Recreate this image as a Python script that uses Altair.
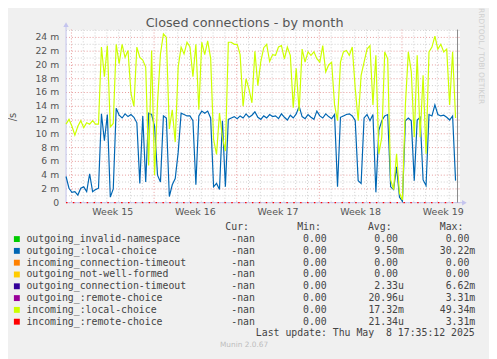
import altair as alt
import pandas as pd

# ---------------- data ----------------
series_names = [
    "outgoing_invalid-namespace",
    "outgoing_:local-choice",
    "incoming_connection-timeout",
    "outgoing_not-well-formed",
    "outgoing_connection-timeout",
    "outgoing_:remote-choice",
    "incoming_:local-choice",
    "incoming_:remote-choice",
]
series_colors = ["#00CC00", "#0066B3", "#FF8000", "#FFCC00",
                 "#330099", "#990099", "#CCFF00", "#FF0000"]
cur_vals = ["-nan"] * 8
min_vals = ["0.00"] * 8
avg_vals = ["0.00", "9.50m", "0.00", "0.00", "2.33u", "20.96u", "17.32m", "21.34u"]
max_vals = ["0.00", "30.22m", "0.00", "0.00", "6.62m", "3.31m", "49.34m", "3.31m"]

# 6-hour samples (in milli-connections per second), first sample Apr 6 13:00
start_day = -0.4583   # days relative to Monday of week 15
step_day = 0.25

outgoing_local = [
    3.8, 2.1, 1.5, 1.6, 1.1, 2.1, 2.3, 1.6, 4.2, 1.6, 1.9, 2.1,
    12.9, 9.0, 12.8, 0.8, 2.0, 13.7,
    12.7, 12.3, 12.9, 12.5, 12.8, 12.4, 11.6,
    2.8, 12.6, 3.0, 13.0, 12.8, 11.1, 4.0, 3.0, 12.6, 12.3, 0.9, 2.6, 3.5, 7.3,
    13.0, 12.8, 12.6, 12.6, 11.9, 2.6, 12.6,
    13.3, 13.0, 13.3, 12.3, 2.3, 2.8, 1.9, 11.9, 2.3, 12.1, 12.3,
    12.5, 12.2, 12.6, 12.3, 12.9, 12.4, 12.7, 13.2, 12.4, 12.1, 12.6, 12.3, 12.8, 12.5,
    12.6, 12.2, 12.9, 12.4, 12.0, 12.7, 12.3, 12.9, 14.0, 12.5, 12.2, 12.8, 12.4,
    12.1, 13.3, 12.6, 12.3, 12.9, 12.5, 12.2, 12.8,
    2.3, 12.4, 12.6, 12.8, 12.9, 12.6, 11.9, 3.2, 2.8, 12.3, 12.8, 11.9, 12.8,
    1.5, 10.5, 11.9, 12.6, 12.8, 2.3, 1.9, 5.2, 0.8, 0.2, 11.9, 12.3, 11.9, 3.2,
    12.0, 12.4, 3.3, 2.5, 12.8, 12.6, 14.2, 12.8, 12.6, 12.7, 12.4, 12.0, 12.6, 3.2,
]
incoming_local = [
    11.4, 12.1, 11.1, 9.8, 11.1, 11.9, 10.9, 11.6, 11.4, 11.9, 11.4, 11.4,
    22.6, 18.3, 22.8, 11.0, 11.5, 23.0,
    20.2, 23.0, 21.1, 22.1, 15.9, 14.0, 22.6,
    21.1, 20.7, 19.7, 5.4, 22.1, 4.0, 14.5, 21.6, 24.5, 24.0, 10.7, 13.5, 8.8, 19.7,
    22.6, 21.6, 23.3, 22.6, 18.3, 23.0, 13.5,
    23.3, 21.5, 23.5, 21.0, 9.2, 7.0, 13.0, 9.5, 7.5, 23.3, 23.3,
    23.0, 23.0, 21.5, 14.0, 18.0, 16.5, 14.5, 22.0, 17.0, 20.5, 22.5, 23.0, 20.5, 21.5,
    21.4, 22.6, 22.8, 20.9, 22.6, 21.4, 13.8, 19.5, 13.3, 22.3, 20.4, 21.9, 21.4,
    21.9, 20.9, 20.4, 22.8, 19.0, 20.0, 20.4, 14.2,
    11.9, 20.4, 21.9, 22.1, 21.4, 22.6, 16.6, 11.9, 18.5, 20.4, 22.3, 22.8, 14.2,
    21.4, 7.1, 9.5, 21.9, 20.9, 3.3, 1.9, 7.1, 1.4, 0.4, 14.2, 21.9, 19.0, 9.5,
    21.4, 9.5, 18.5, 7.1, 21.9, 22.6, 24.2, 22.3, 23.0, 21.9, 22.3, 14.2, 21.9, 12.3,
]
incoming_remote = [0.0] * len(outgoing_local)

y_major = list(range(0, 25, 2))
y_labels = ["0"] + [f"{v} m" for v in y_major[1:]]
y_minor = list(range(1, 26, 2))
week_starts = [0, 7, 14, 21, 28]
day_lines = [d for d in range(0, 33) if d % 7 != 0]
week_label_pos = [3.5, 10.5, 17.5, 24.5, 31.5]
week_labels = ["Week 15", "Week 16", "Week 17", "Week 18", "Week 19"]

# ---------------- layout ----------------
W, H = 400, 176
X_DOM = [-0.4583, 32.875]
Y_DOM = [0, 25.14]
xs = alt.Scale(domain=X_DOM, nice=False, zero=False)
ys = alt.Scale(domain=Y_DOM, nice=False, zero=False)
TXT = "#555555"
SANS = "DejaVu Sans"
MONO = "DejaVu Sans Mono"

days = [start_day + step_day * i for i in range(len(outgoing_local))]

def series_df(vals):
    return pd.DataFrame({"day": days, "v": vals})

XQ = alt.X("day:Q", scale=xs, axis=None)
YQ = alt.Y("v:Q", scale=ys, axis=None)

vgrid_minor = alt.Chart(pd.DataFrame({"day": day_lines})).mark_rule(
    color="#cfcfcf", strokeDash=[1, 2], strokeWidth=1).encode(x=XQ)
hgrid_minor = alt.Chart(pd.DataFrame({"v": y_minor})).mark_rule(
    color="#cfcfcf", strokeDash=[1, 2], strokeWidth=1).encode(y=YQ)
vgrid_major = alt.Chart(pd.DataFrame({"day": week_starts})).mark_rule(
    color="#e79a9a", strokeDash=[1, 2], strokeWidth=1).encode(x=XQ)
hgrid_major = alt.Chart(pd.DataFrame({"v": y_major})).mark_rule(
    color="#e79a9a", strokeDash=[1, 2], strokeWidth=1).encode(y=YQ)

ytick_text = alt.Chart(pd.DataFrame({"v": y_major, "lab": y_labels})).mark_text(
    font=SANS, fontSize=9.4, color=TXT, align="right", baseline="middle").encode(
    y=YQ, x=alt.value(-7), text="lab:N")
xtick_text = alt.Chart(pd.DataFrame({"day": week_label_pos, "lab": week_labels})).mark_text(
    font=SANS, fontSize=9.6, color=TXT, align="center", baseline="middle").encode(
    x=XQ, y=alt.value(H + 9.5), text="lab:N")

def line(vals, color, **kw):
    return alt.Chart(series_df(vals)).mark_line(color=color, strokeWidth=1.2, **kw).encode(
        x=XQ, y=YQ)

blue_line = line(outgoing_local, series_colors[1])
yg_line = line(incoming_local, series_colors[6])
red_line = line(incoming_remote, series_colors[7], strokeDash=[1.5, 5.5])

axis_col = "#c4c4ee"
left_axis = alt.Chart().mark_rule(color=axis_col, strokeWidth=1).encode(
    x=alt.value(0), y=alt.value(-4), y2=alt.value(H))
bottom_axis = alt.Chart().mark_rule(color=axis_col, strokeWidth=1).encode(
    x=alt.value(0), x2=alt.value(W + 4), y=alt.value(H))
up_arrow = alt.Chart().mark_point(shape="triangle-up", filled=True, color=axis_col,
                                  size=30, opacity=1).encode(x=alt.value(0), y=alt.value(-5))
right_arrow = alt.Chart().mark_point(shape="triangle-right", filled=True, color=axis_col,
                                     size=30, opacity=1).encode(x=alt.value(W + 5), y=alt.value(H))
right_border = alt.Chart().mark_rule(color="#8a8a8a", strokeWidth=1).encode(
    x=alt.value(W - 2), y=alt.value(0), y2=alt.value(H))

title = alt.Chart().mark_text(text="Closed connections - by month", font=SANS, fontSize=13,
                              color=TXT, align="center", baseline="alphabetic").encode(
    x=alt.value(181.5), y=alt.value(-3))
ylabel = alt.Chart().mark_text(text="/s", font=SANS, fontSize=10, color=TXT, angle=270,
                               align="center", baseline="middle").encode(
    x=alt.value(-54), y=alt.value(89))
rrd = alt.Chart().mark_text(text="RRDTOOL / TOBI OETIKER", font=SANS, fontSize=7.6,
                            color="#cfcfcf", angle=90, align="center", baseline="middle").encode(
    x=alt.value(421.5), y=alt.value(27))

plot = alt.layer(vgrid_minor, hgrid_minor, vgrid_major, hgrid_major,
                 left_axis, bottom_axis, up_arrow, right_arrow, right_border,
                 blue_line, yg_line, red_line, ytick_text, xtick_text,
                 title, ylabel, rrd)

# ---------------- legend table ----------------
def split(v):
    return (v[:-1], v[-1]) if v[-1] in "mu" else (v, "")

leg = pd.DataFrame({
    "row": list(range(8)),
    "name": series_names,
    "color": series_colors,
    "cur": cur_vals,
    "min": min_vals,
    "avg_n": [split(v)[0] for v in avg_vals],
    "avg_s": [split(v)[1] for v in avg_vals],
    "max_n": [split(v)[0] for v in max_vals],
    "max_s": [split(v)[1] for v in max_vals],
})
row_y = alt.Y("row:Q", scale=alt.Scale(domain=[0, 7], range=[213, 297]), axis=None)
base = alt.Chart(leg)

def col(field, xpos, align):
    return base.mark_text(font=MONO, fontSize=10, color="#444444", align=align,
                          baseline="middle").encode(x=alt.value(xpos), y=row_y,
                                                    text=alt.Text(f"{field}:N"))

squares = base.mark_square(size=36, opacity=1).encode(
    x=alt.value(-50), y=row_y, color=alt.Color("color:N", scale=None))

def hdr(t, xpos):
    return alt.Chart().mark_text(text=t, font=MONO, fontSize=10, color="#444444",
                                 align="right", baseline="middle").encode(
        x=alt.value(xpos), y=alt.value(201))

last_update = alt.Chart().mark_text(text="Last update: Thu May \u00a08 17:35:12 2025", font=MONO,
                                    fontSize=10, color="#444444", align="right",
                                    baseline="middle").encode(x=alt.value(415.5), y=alt.value(309))
munin = alt.Chart().mark_text(text="Munin 2.0.67", font=SANS, fontSize=7.5, color="#bdbdbd",
                              align="center", baseline="middle").encode(
    x=alt.value(181), y=alt.value(321))

legend = alt.layer(
    squares,
    col("name", -40.3, "left"),
    col("cur", 192, "right"),
    col("min", 265, "right"),
    col("avg_n", 337.5, "right"),
    col("avg_s", 337.5, "left"),
    col("max_n", 410, "right"),
    col("max_s", 410, "left"),
    hdr("Cur:", 186), hdr("Min:", 259), hdr("Avg:", 331), hdr("Max:", 404),
    last_update, munin,
)

chart = alt.layer(plot, legend).resolve_scale(y="independent").properties(
    width=W, height=H,
    autosize=alt.AutoSizeParams(type="none"),
    padding={"left": 59, "top": 19, "right": 30, "bottom": 156},
    background="#f0f0f0",
).configure_view(fill="white", stroke="transparent")

chart.save("out.html", embed_options={"renderer": "svg", "actions": False})
